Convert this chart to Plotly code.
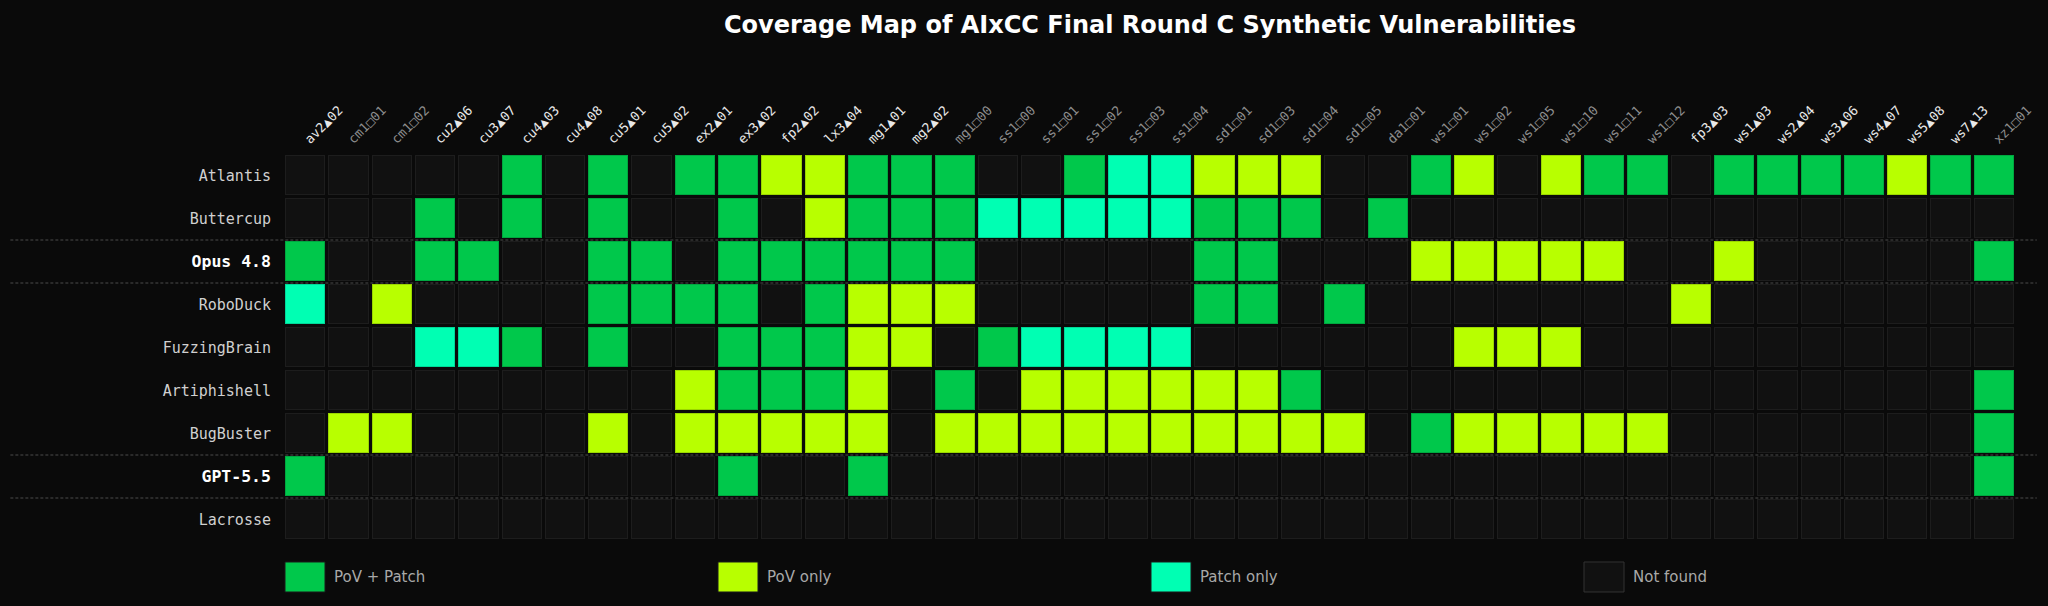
import plotly.graph_objects as go

# ---------------- data ----------------
columns = ["av2▲02", "cm1□01", "cm1□02", "cu2▲06", "cu3▲07", "cu4▲03", "cu4▲08", "cu5▲01",
           "cu5▲02", "ex2▲01", "ex3▲02", "fp2▲02", "lx3▲04", "mg1▲01", "mg2▲02", "mg1□00",
           "ss1□00", "ss1□01", "ss1□02", "ss1□03", "ss1□04", "sd1□01", "sd1□03", "sd1□04",
           "sd1□05", "da1□01", "ws1□01", "ws1□02", "ws1□05", "ws1□10", "ws1□11", "ws1□12",
           "fp3▲03", "ws1▲03", "ws2▲04", "ws3▲06", "ws4▲07", "ws5▲08", "ws7▲13", "xz1□01"]

teams = ["Atlantis", "Buttercup", "Opus 4.8", "RoboDuck", "FuzzingBrain",
         "Artiphishell", "BugBuster", "GPT-5.5", "Lacrosse"]
highlight = ["Opus 4.8", "GPT-5.5"]

# 0 = Not found, 1 = PoV + Patch, 2 = PoV only, 3 = Patch only
atlantis     = [0,0,0,0,0,1,0,1,0,1,1,2,2,1,1,1,0,0,1,3,3,2,2,2,0,0,1,2,0,2,1,1,0,1,1,1,1,2,1,1]
buttercup    = [0,0,0,1,0,1,0,1,0,0,1,0,2,1,1,1,3,3,3,3,3,1,1,1,0,1,0,0,0,0,0,0,0,0,0,0,0,0,0,0]
opus48       = [1,0,0,1,1,0,0,1,1,0,1,1,1,1,1,1,0,0,0,0,0,1,1,0,0,0,2,2,2,2,2,0,0,2,0,0,0,0,0,1]
roboduck     = [3,0,2,0,0,0,0,1,1,1,1,0,1,2,2,2,0,0,0,0,0,1,1,0,1,0,0,0,0,0,0,0,2,0,0,0,0,0,0,0]
fuzzingbrain = [0,0,0,3,3,1,0,1,0,0,1,1,1,2,2,0,1,3,3,3,3,0,0,0,0,0,0,2,2,2,0,0,0,0,0,0,0,0,0,0]
artiphishell = [0,0,0,0,0,0,0,0,0,2,1,1,1,2,0,1,0,2,2,2,2,2,2,1,0,0,0,0,0,0,0,0,0,0,0,0,0,0,0,1]
bugbuster    = [0,2,2,0,0,0,0,2,0,2,2,2,2,2,0,2,2,2,2,2,2,2,2,2,2,0,1,2,2,2,2,2,0,0,0,0,0,0,0,1]
gpt55        = [1,0,0,0,0,0,0,0,0,0,1,0,0,1,0,0,0,0,0,0,0,0,0,0,0,0,0,0,0,0,0,0,0,0,0,0,0,0,0,1]
lacrosse     = [0] * 40

matrix = [atlantis, buttercup, opus48, roboduck, fuzzingbrain,
          artiphishell, bugbuster, gpt55, lacrosse]

status_labels = ["PoV + Patch", "PoV only", "Patch only", "Not found"]
status_codes = [1, 2, 3, 0]

# ---------------- style ----------------
BG = "#0a0a0a"
fill_colors = {0: "#111111", 1: "#00c84b", 2: "#b8ff00", 3: "#00ffb3"}
edge_colors = {0: "#1d1d1d", 1: "#00a840", 2: "#9ad600", 3: "#00d898"}


def stepped(cmap):
    cs = []
    for k in range(4):
        cs.append([k / 4, cmap[k]])
        cs.append([(k + 1) / 4, cmap[k]])
    return cs


xs = list(range(len(columns)))

fig = go.Figure()
# border layer
fig.add_trace(go.Heatmap(
    z=matrix, x=xs, y=teams, zmin=-0.5, zmax=3.5,
    colorscale=stepped(edge_colors), showscale=False,
    xgap=3, ygap=3, hoverinfo="skip"))
# fill layer
fig.add_trace(go.Heatmap(
    z=matrix, x=xs, y=teams, zmin=-0.5, zmax=3.5,
    colorscale=stepped(fill_colors), showscale=False,
    xgap=5, ygap=5,
    customdata=[[c for c in columns] for _ in teams],
    hovertemplate="%{y} · %{customdata}<extra></extra>"))

# column tick labels: bright for ▲, grey for □
col_ticktext = []
for c in columns:
    color = "#e8e8e8" if "▲" in c else "#8e8e8e"
    col_ticktext.append(f"<span style='color:{color}'>{c}</span>")

row_ticktext = []
for t in teams:
    if t in highlight:
        row_ticktext.append(f"<b><span style='color:#ffffff;font-size:16.5px'>{t}</span></b>")
    else:
        row_ticktext.append(f"<span style='color:#d0d0d0'>{t}</span>")

# dashed separators around highlighted rows
for t in highlight:
    i = teams.index(t)
    for yb in (i - 0.5, i + 0.5):
        fig.add_shape(type="line", xref="paper", yref="y",
                      x0=-0.158, x1=1.012, y0=yb, y1=yb,
                      line=dict(color="#4a4a4a", width=1, dash="3px,2px"),
                      layer="above")

# legend built from shapes + annotations
for k, (lab, code) in enumerate(zip(status_labels, status_codes)):
    xa = k * 0.25
    fig.add_shape(type="rect", xref="paper", yref="paper",
                  xsizemode="pixel", ysizemode="pixel",
                  xanchor=xa, yanchor=-0.093,
                  x0=1, x1=41, y0=-15, y1=15,
                  fillcolor=fill_colors[code],
                  line=dict(color="#333333" if code == 0 else "#1a1a1a", width=1))
    fig.add_annotation(xref="paper", yref="paper", x=xa, y=-0.093,
                       xshift=48, text=lab, showarrow=False,
                       xanchor="left", yanchor="middle",
                       font=dict(family="DejaVu Sans", size=15, color="#a8a8a8"))

fig.update_layout(
    width=2048, height=606,
    paper_bgcolor=BG, plot_bgcolor=BG,
    margin=dict(l=284, r=32, t=154, b=65),
    title=dict(text="<b>Coverage Map of AIxCC Final Round C Synthetic Vulnerabilities</b>",
               x=0.5, xref="paper", xanchor="center",
               y=1 - 25 / 606, yref="container", yanchor="middle",
               font=dict(family="DejaVu Sans", size=24, color="#ffffff")),
    xaxis=dict(side="top", tickmode="array", tickvals=xs, ticktext=col_ticktext,
               tickangle=-45, showgrid=False, zeroline=False, showline=False,
               ticks="", ticklabelstandoff=4,
               tickfont=dict(family="DejaVu Sans Mono", size=13),
               range=[-0.5, len(columns) - 0.5], fixedrange=True),
    yaxis=dict(tickmode="array", tickvals=teams, ticktext=row_ticktext,
               autorange="reversed", showgrid=False, zeroline=False, showline=False,
               ticks="", ticklabelstandoff=12,
               tickfont=dict(family="DejaVu Sans Mono", size=15), fixedrange=True),
    showlegend=False,
)

fig.write_html("out.html")
